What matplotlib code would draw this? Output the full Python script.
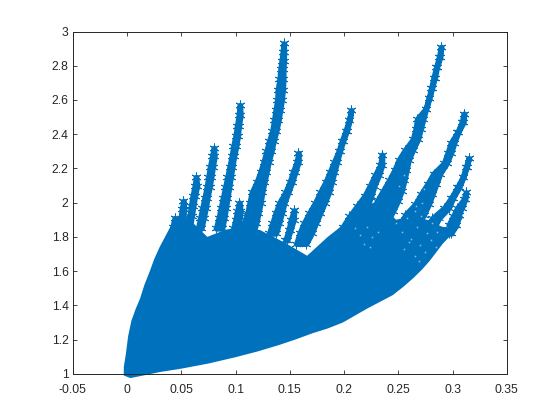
import matplotlib
matplotlib.use("Agg")
import matplotlib.pyplot as plt

# cor padrao do matlab
AZUL = "#0072BD"
CINZA = "#262626"

x_ticks = [-0.05, 0, 0.05, 0.1, 0.15, 0.2, 0.25, 0.3, 0.35]
x_labels = ["-0.05", "0", "0.05", "0.1", "0.15", "0.2", "0.25", "0.3", "0.35"]
y_ticks = [1, 1.2, 1.4, 1.6, 1.8, 2, 2.2, 2.4, 2.6, 2.8, 3]
y_labels = ["1", "1.2", "1.4", "1.6", "1.8", "2", "2.2", "2.4", "2.6", "2.8", "3"]

# contorno do corpo solido
corpo_x = [-0.003, -0.003, -0.001, 0.001, 0.004, 0.008, 0.012, 0.016, 0.021, 0.025, 0.03, 0.035, 0.04,
           0.05, 0.0627, 0.074, 0.09, 0.105, 0.1225, 0.135, 0.147, 0.166, 0.185, 0.205, 0.227, 0.24,
           0.248, 0.26, 0.2765, 0.29, 0.30, 0.31,
           0.30, 0.291, 0.285, 0.279, 0.272, 0.264, 0.255, 0.245, 0.233, 0.221, 0.21, 0.199, 0.185,
           0.171, 0.155, 0.141, 0.12, 0.1, 0.075, 0.05, 0.03, 0.015, 0.003]
corpo_y = [0.99, 1.04, 1.12, 1.22, 1.31, 1.38, 1.44, 1.52, 1.60, 1.67, 1.74, 1.80, 1.86,
           1.93, 1.87, 1.80, 1.84, 1.86, 1.84, 1.80, 1.76, 1.69, 1.80, 1.90, 2.00, 1.95,
           1.90, 1.92, 1.90, 1.86, 1.85, 1.915,
           1.82, 1.76, 1.71, 1.66, 1.61, 1.56, 1.51, 1.46, 1.42, 1.38, 1.34, 1.30, 1.265,
           1.237, 1.20, 1.17, 1.13, 1.097, 1.06, 1.03, 1.01, 0.99, 0.975]

# cada espiga: nivel y, borda esquerda e borda direita (centros dos asteriscos)
esp_1_y = [2.93, 2.88, 2.83, 2.78, 2.72, 2.66, 2.60, 2.54, 2.48, 2.42, 2.36, 2.30, 2.24, 2.18, 2.12, 2.06, 2.00, 1.94, 1.88, 1.82]
esp_1_e = [.1445, .1435, .1425, .1415, .1405, .139, .1385, .137, .1355, .134, .131, .1285, .126, .123, .1195, .115, .113, .111, .108, .105]
esp_1_d = [.1445, .1445, .1445, .144, .144, .1435, .1425, .141, .1395, .1375, .135, .133, .1305, .1285, .1265, .1245, .123, .121, .119, .116]

esp_2_y = [2.57, 2.51, 2.45, 2.39, 2.33, 2.27, 2.21, 2.15, 2.09, 2.03, 1.97, 1.91, 1.85]
esp_2_e = [.104, .103, .1015, .100, .098, .0965, .0945, .0925, .0905, .0885, .0865, .0845, .082]
esp_2_d = [.104, .1045, .103, .102, .1005, .0985, .097, .0955, .094, .0925, .091, .0895, .0875]

esp_3_y = [2.32, 2.27, 2.21, 2.15, 2.09, 2.03, 1.97, 1.91, 1.85]
esp_3_e = [.080, .0785, .0765, .0750, .0735, .0715, .0695, .0675, .0655]
esp_3_d = [.080, .0805, .0790, .0775, .0760, .0740, .0725, .0705, .0685]

esp_4_y = [2.15, 2.10, 2.04, 1.98, 1.92, 1.86]
esp_4_e = [.0636, .0625, .0605, .059, .0575, .056]
esp_4_d = [.0636, .0645, .0625, .061, .0595, .058]

esp_5_y = [2.01, 1.96, 1.91, 1.86]
esp_5_e = [.052, .0505, .0495, .0485]
esp_5_d = [.052, .0525, .0515, .0505]

esp_6_y = [1.91, 1.86]
esp_6_e = [.044, .042]
esp_6_d = [.044, .046]

esp_7_y = [2.00, 1.95, 1.90, 1.85]
esp_7_e = [.1035, .1015, .100, .098]
esp_7_d = [.1035, .1045, .1035, .102]

esp_8_y = [2.29, 2.24, 2.18, 2.12, 2.06, 2.00, 1.94, 1.88, 1.82]
esp_8_e = [.158, .1565, .153, .150, .146, .1405, .137, .134, .131]
esp_8_d = [.158, .158, .155, .152, .1485, .145, .1425, .140, .137]

esp_9_y = [1.955, 1.90, 1.84, 1.78]
esp_9_e = [.154, .151, .149, .146]
esp_9_d = [.154, .1535, .1505, .1475]

esp_10_y = [2.54, 2.48, 2.42, 2.36, 2.30, 2.24, 2.18, 2.12, 2.06, 2.00, 1.94, 1.88, 1.82, 1.76]
esp_10_e = [.2065, .2045, .2015, .198, .195, .191, .187, .183, .178, .1735, .168, .163, .159, .156]
esp_10_d = [.2065, .205, .2025, .199, .196, .1935, .191, .1885, .186, .182, .178, .174, .170, .165]

esp_11_y = [2.28, 2.22, 2.16, 2.10, 2.04, 1.98, 1.92, 1.86, 1.80]
esp_11_e = [.235, .2335, .2285, .224, .219, .212, .205, .199, .193]
esp_11_d = [.235, .235, .232, .228, .225, .2215, .218, .214, .209]

esp_12_y = [2.91, 2.85, 2.79, 2.73, 2.67, 2.61, 2.55, 2.49, 2.43, 2.37, 2.31, 2.25, 2.19, 2.13, 2.07, 2.01, 1.95, 1.89, 1.83]
esp_12_e = [.2895, .2875, .285, .2825, .2805, .278, .2755, .2675, .266, .2635, .2565, .2505, .2465, .2415, .236, .2305, .2265, .2245, .222]
esp_12_d = [.2895, .2885, .2855, .2835, .281, .2785, .2755, .273, .2705, .268, .2635, .2595, .2575, .2555, .253, .2495, .245, .240, .235]

esp_13_y = [2.52, 2.47, 2.41, 2.35, 2.29, 2.23, 2.17, 2.11, 2.05, 1.99, 1.93, 1.87]
esp_13_e = [.3106, .3085, .3045, .2985, .2955, .292, .2825, .277, .271, .2655, .2565, .2525]
esp_13_d = [.3106, .310, .305, .3015, .2985, .2945, .2885, .285, .2815, .278, .2735, .268]

esp_14_y = [2.26, 2.21, 2.15, 2.09, 2.03, 1.97, 1.91, 1.85]
esp_14_e = [.315, .3125, .3095, .3045, .299, .2925, .2815, .2755]
esp_14_d = [.315, .313, .310, .306, .3005, .2965, .2875, .2825]

esp_15_y = [2.06, 2.02, 1.97, 1.92, 1.87]
esp_15_e = [.3125, .3105, .3045, .3005, .2965]
esp_15_d = [.3125, .3115, .3085, .3045, .3005]

esp_16_y = [1.93, 1.87, 1.82]
esp_16_e = [.306, .3015, .297]
esp_16_d = [.306, .3035, .2985]

espigas = [
    (esp_1_y, esp_1_e, esp_1_d), (esp_2_y, esp_2_e, esp_2_d), (esp_3_y, esp_3_e, esp_3_d),
    (esp_4_y, esp_4_e, esp_4_d), (esp_5_y, esp_5_e, esp_5_d), (esp_6_y, esp_6_e, esp_6_d),
    (esp_7_y, esp_7_e, esp_7_d), (esp_8_y, esp_8_e, esp_8_d), (esp_9_y, esp_9_e, esp_9_d),
    (esp_10_y, esp_10_e, esp_10_d), (esp_11_y, esp_11_e, esp_11_d), (esp_12_y, esp_12_e, esp_12_d),
    (esp_13_y, esp_13_e, esp_13_d), (esp_14_y, esp_14_e, esp_14_d), (esp_15_y, esp_15_e, esp_15_d),
    (esp_16_y, esp_16_e, esp_16_d),
]

# falhas claras entre os asteriscos, na parte direita
furo_x = [.210, .215, .221, .226, .231, .218, .224, .248, .253, .258, .262, .267, .271, .276, .281, .286, .291,
          .255, .26, .265, .27, .275, .28, .285, .262, .268, .274, .279, .25, .257, .264, .271, .278,
          .266, .272, .2505, .2555, .26, .265, .2795, .2855, .2695]
furo_y = [1.85, 1.81, 1.86, 1.80, 1.83, 1.76, 1.74, 1.88, 1.83, 1.91, 1.79, 1.86, 1.92, 1.82, 1.88, 1.83, 1.90,
          1.73, 1.77, 1.69, 1.75, 1.71, 1.78, 1.74, 2.04, 2.13, 2.08, 2.22, 1.96, 2.02, 2.22, 2.30, 2.37,
          1.98, 2.00, 2.10, 2.16, 2.12, 1.95, 1.95, 2.05, 1.66]

plt.rcParams["font.family"] = ["Liberation Sans", "DejaVu Sans"]

fig = plt.figure(figsize=(5.6, 4.2), dpi=100)
ax = fig.add_axes([0.13, 0.11, 0.775, 0.815])

ax.fill(corpo_x, corpo_y, color=AZUL, lw=0, clip_on=False, zorder=2)
for ey, ee, ed in espigas:
    ax.fill_betweenx(ey, ee, ed, facecolor=AZUL, edgecolor=AZUL, lw=4, joinstyle="round", zorder=2)
    ax.plot(ee, ey, ls="none", marker=(6, 2, 0), ms=7, mew=0.6, color=AZUL, zorder=2)
    ax.plot(ed, ey, ls="none", marker=(6, 2, 0), ms=7, mew=0.6, color=AZUL, zorder=2)
ax.plot(furo_x, furo_y, ls="none", marker="s", ms=1.1, mew=0, color="white", alpha=0.55, zorder=3)

ax.set_xlim(-0.05, 0.35)
ax.set_ylim(1, 3)
ax.set_xticks(x_ticks)
ax.set_xticklabels(x_labels)
ax.set_yticks(y_ticks)
ax.set_yticklabels(y_labels)
ax.tick_params(direction="in", top=True, right=True, length=3, width=0.6, color=CINZA,
               labelcolor=CINZA, labelsize=8.7)
ax.tick_params(axis="x", pad=7)
ax.tick_params(axis="y", pad=3)
for lado in ax.spines.values():
    lado.set_linewidth(0.7)
    lado.set_color(CINZA)
    lado.set_zorder(5)

fig.savefig("out.png", dpi=100)
